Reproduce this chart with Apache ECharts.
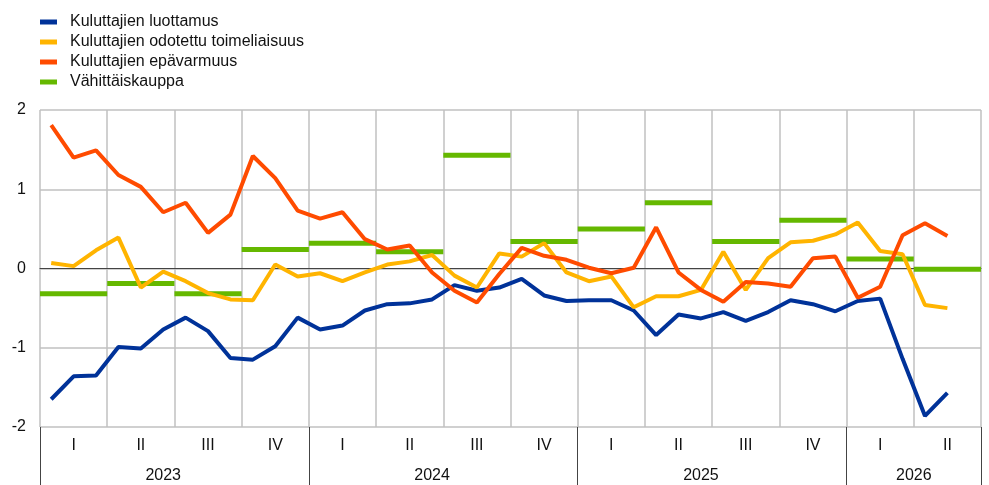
<!DOCTYPE html>
<html>
<head>
<meta charset="utf-8">
<script src="https://cdn.jsdelivr.net/npm/echarts@6/dist/echarts.min.js"></script>
<style>
  html, body { margin: 0; padding: 0; background: #fff; }
  #chart { width: 989px; height: 485px; }
</style>
</head>
<body>
<div id="chart"></div>
<script>
// monthly series, Jan 2023 .. May 2026
var luottamus = [-1.65, -1.36, -1.35, -0.99, -1.01, -0.77, -0.62, -0.79, -1.13, -1.15, -0.98, -0.62,
    -0.77, -0.72, -0.53, -0.45, -0.44, -0.39, -0.21, -0.28, -0.24, -0.13, -0.34, -0.41,
    -0.40, -0.40, -0.53, -0.84, -0.58, -0.63, -0.55, -0.66, -0.55, -0.40, -0.45, -0.54,
    -0.41, -0.38, -1.14, -1.86, -1.57]
var odotettu = [0.07, 0.03, 0.23, 0.39, -0.24, -0.04, -0.16, -0.31, -0.39, -0.40, 0.05, -0.10,
    -0.06, -0.16, -0.05, 0.05, 0.09, 0.17, -0.09, -0.24, 0.19, 0.15, 0.32, -0.05,
    -0.16, -0.10, -0.49, -0.35, -0.35, -0.27, 0.21, -0.27, 0.13, 0.33, 0.35, 0.43,
    0.58, 0.22, 0.18, -0.46, -0.50]
var epavarmuus = [1.81, 1.40, 1.49, 1.18, 1.03, 0.71, 0.83, 0.45, 0.68, 1.42, 1.14, 0.73,
    0.63, 0.71, 0.37, 0.24, 0.29, -0.05, -0.28, -0.43, -0.07, 0.26, 0.16, 0.11,
    0.01, -0.06, 0.01, 0.52, -0.05, -0.27, -0.42, -0.17, -0.19, -0.23, 0.13, 0.15,
    -0.37, -0.23, 0.42, 0.57, 0.41]
// quarterly, 2023 Q1 .. 2026 Q2
var vahittais = [-0.32, -0.19, -0.32, 0.24, 0.32, 0.21, 1.43, 0.34, 0.50, 0.83, 0.34, 0.61, 0.12, -0.01]

var quarterLabels = ['I', 'II', 'III', 'IV', 'I', 'II', 'III', 'IV', 'I', 'II', 'III', 'IV', 'I', 'II']
var years = ['2023', '2024', '2025', '2026']
var yearQuarters = [4, 4, 4, 2]
var yTicks = [-2, -1, 0, 1, 2]

var names = ['Kuluttajien luottamus', 'Kuluttajien odotettu toimeliaisuus', 'Kuluttajien epävarmuus', 'Vähittäiskauppa']
var colors = ['#003299', '#ffb400', '#ff4b00', '#65b800']

var nMonths = quarterLabels.length * 3

function toPoints(arr){
    var out = []
    for (var i = 0; i < arr.length; i++){
        out.push([i + 0.5, arr[i]])
    }
    return out
}

// year label positions (month units); full years sit half a month left of centre, as in the original
var yearPos = {}
var qStart = 0
for (var k = 0; k < years.length; k++){
    var p = (qStart + yearQuarters[k] / 2) * 3
    if (yearQuarters[k] === 4) p -= 0.5
    yearPos[p * 2] = years[k]
    qStart += yearQuarters[k]
}

var monthCats = []
for (var m = 0; m < nMonths; m++){ monthCats.push(String(m)) }

var steps = []
for (var q = 0; q < vahittais.length; q++){
    steps.push([q * 3, q * 3 + 3, vahittais[q]])
}

var font = 'Liberation Sans, Arial, sans-serif'

function lineSeries(idx, data){
    return {
        name: names[idx],
        type: 'line',
        xAxisIndex: 0,
        data: toPoints(data),
        symbol: 'none',
        lineStyle: { width: 4, color: colors[idx] },
        itemStyle: { color: colors[idx] },
        emphasis: { disabled: true }
    }
}

var option = {
    animation: false,
    backgroundColor: '#fff',
    textStyle: { fontFamily: font },
    legend: {
        orient: 'vertical',
        left: 35,
        top: 9,
        itemWidth: 17,
        itemHeight: 5,
        itemGap: 4,
        icon: 'rect',
        textStyle: { fontSize: 16, color: '#111', fontFamily: font, padding: [0, 0, 0, 8] },
        data: names
    },
    grid: { left: 40, right: 8, top: 110, bottom: 58 },
    xAxis: [{
        type: 'value', min: 0, max: nMonths, interval: 3,
        axisLine: { show: true, onZero: true, lineStyle: { color: '#444', width: 1 } },
        axisTick: { show: false },
        axisLabel: { show: false },
        splitLine: { show: true, lineStyle: { color: '#c0c0c0', width: 1.5 } }
    }, {
        type: 'value', min: 0, max: nMonths, interval: 1.5, position: 'bottom',
        axisLine: { show: false, onZero: false },
        axisTick: { show: false },
        splitLine: { show: false },
        axisLabel: {
            margin: 11, fontSize: 16, color: '#111', fontFamily: font,
            formatter: function(v){
                var idx = Math.round((v - 1.5) / 3)
                if (Math.abs(v - (idx * 3 + 1.5)) < 1e-6 && quarterLabels[idx]) return quarterLabels[idx]
                return ''
            }
        }
    }, {
        type: 'value', min: 0, max: nMonths, interval: 0.5, position: 'bottom',
        axisLine: { show: false, onZero: false },
        axisTick: { show: false },
        splitLine: { show: false },
        axisLabel: {
            margin: 41, fontSize: 16, color: '#111', fontFamily: font,
            formatter: function(v){ return yearPos[Math.round(v * 2)] || '' }
        }
    }, {
        type: 'category', data: monthCats, boundaryGap: true, position: 'bottom',
        axisLine: { show: false, onZero: false },
        axisLabel: { show: false },
        splitLine: { show: false },
        axisTick: {
            show: true, length: 58, inside: false,
            interval: function(index){ return index % 12 === 0 },
            lineStyle: { color: '#444', width: 1 }
        }
    }],
    yAxis: {
        type: 'value', min: yTicks[0], max: yTicks[yTicks.length - 1], interval: 1,
        axisLine: { show: false },
        axisTick: { show: false },
        axisLabel: { margin: 14, fontSize: 16, color: '#111', fontFamily: font },
        splitLine: { show: true, lineStyle: { color: '#c0c0c0', width: 1.5 } }
    },
    series: [
        lineSeries(0, luottamus),
        lineSeries(1, odotettu),
        lineSeries(2, epavarmuus),
        {
            name: names[3],
            type: 'custom',
            xAxisIndex: 0,
            itemStyle: { color: colors[3] },
            encode: { x: [0, 1], y: 2 },
            data: steps,
            renderItem: function(params, api){
                var a = api.coord([api.value(0), api.value(2)])
                var b = api.coord([api.value(1), api.value(2)])
                return {
                    type: 'rect',
                    shape: { x: a[0], y: a[1] - 2.5, width: b[0] - a[0], height: 5 },
                    style: { fill: colors[3] }
                }
            }
        }
    ]
}

var chart = echarts.init(document.getElementById('chart'))
chart.setOption(option)
</script>
</body>
</html>
